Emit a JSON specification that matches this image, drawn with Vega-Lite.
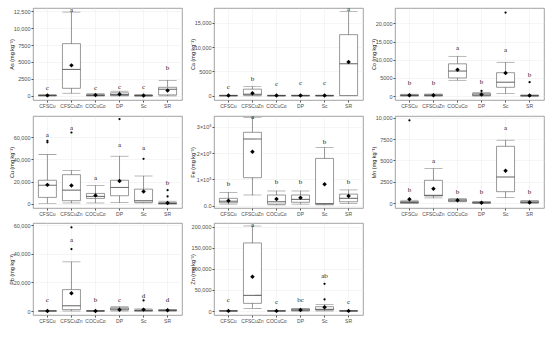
{
"$schema": "https://vega.github.io/schema/vega-lite/v6.json",
"background": "white",
"padding": {"left": 8, "top": 4, "right": 2, "bottom": 2},
"datasets": {
"As": [
{"c":"CFSCu","lo":0,"q1":20,"md":60,"q3":120,"hi":250,"mn":80,"lt":"c","ly":1200},
{"c":"CFSCuZn","lo":400,"q1":1120,"md":3900,"q3":7700,"hi":12350,"mn":4500,"lt":"a","ly":12700},
{"c":"COCuCo","lo":0,"q1":30,"md":80,"q3":200,"hi":350,"mn":120,"lt":"c","ly":1200},
{"c":"DP","lo":0,"q1":60,"md":200,"q3":450,"hi":700,"mn":250,"lt":"c","ly":1300},
{"c":"Sc","lo":0,"q1":10,"md":40,"q3":100,"hi":200,"mn":60,"lt":"c","ly":1250},
{"c":"SR","lo":0,"q1":150,"md":980,"q3":1270,"hi":2300,"mn":800,"lt":"b","ly":4100}
],
"Ca": [
{"c":"CFSCu","lo":0,"q1":10,"md":30,"q3":80,"hi":150,"mn":60,"lt":"c","ly":1800},
{"c":"CFSCuZn","lo":0,"q1":140,"md":340,"q3":1370,"hi":1920,"mn":550,"lt":"b","ly":3400},
{"c":"COCuCo","lo":0,"q1":10,"md":30,"q3":80,"hi":150,"mn":50,"lt":"c","ly":2500},
{"c":"DP","lo":0,"q1":10,"md":30,"q3":80,"hi":150,"mn":50,"lt":"c","ly":2600},
{"c":"Sc","lo":0,"q1":10,"md":30,"q3":80,"hi":150,"mn":50,"lt":"c","ly":2600},
{"c":"SR","lo":0,"q1":70,"md":6580,"q3":12540,"hi":17330,"mn":6920,"lt":"a","ly":17800}
],
"Co": [
{"c":"CFSCu","lo":0,"q1":50,"md":150,"q3":350,"hi":500,"mn":200,"lt":"b","ly":3600},
{"c":"CFSCuZn","lo":0,"q1":60,"md":180,"q3":400,"hi":550,"mn":220,"lt":"b","ly":3600},
{"c":"COCuCo","lo":4340,"q1":4980,"md":6880,"q3":8870,"hi":10950,"mn":7240,"lt":"a","ly":13200},
{"c":"DP","lo":0,"q1":100,"md":300,"q3":720,"hi":900,"mn":400,"lt":"b","ly":3800},
{"c":"DP","o":1400},
{"c":"Sc","lo":720,"q1":2400,"md":3800,"q3":6430,"hi":9300,"mn":6330,"lt":"a","ly":12600},
{"c":"Sc","o":23000},
{"c":"SR","lo":0,"q1":20,"md":60,"q3":150,"hi":300,"mn":120,"lt":"b","ly":5700},
{"c":"SR","o":3800}
],
"Cu": [
{"c":"CFSCu","lo":600,"q1":5900,"md":16840,"q3":21280,"hi":44300,"mn":17140,"lt":"a","ly":62000},
{"c":"CFSCu","o":55300},
{"c":"CFSCu","o":56700},
{"c":"CFSCuZn","lo":900,"q1":2950,"md":12400,"q3":26300,"hi":30100,"mn":16550,"lt":"a","ly":68500},
{"c":"CFSCuZn","o":64100},
{"c":"COCuCo","lo":900,"q1":5000,"md":6800,"q3":9450,"hi":16550,"mn":7700,"lt":"a","ly":23600},
{"c":"DP","lo":1200,"q1":7390,"md":14800,"q3":21280,"hi":42850,"mn":20700,"lt":"a","ly":52500},
{"c":"DP","o":76200},
{"c":"Sc","lo":900,"q1":1480,"md":2950,"q3":13300,"hi":25100,"mn":11200,"lt":"a","ly":50200},
{"c":"Sc","o":40500},
{"c":"SR","lo":0,"q1":200,"md":500,"q3":1200,"hi":2500,"mn":900,"lt":"b","ly":18500},
{"c":"SR","o":6800},
{"c":"SR","o":12400}
],
"Fe": [
{"c":"CFSCu","lo":6000,"q1":11400,"md":17000,"q3":28000,"hi":51000,"mn":18500,"lt":"b","ly":82600},
{"c":"CFSCuZn","lo":40700,"q1":106600,"md":254000,"q3":279500,"hi":336600,"mn":205600,"lt":"a","ly":338000},
{"c":"COCuCo","lo":3000,"q1":6000,"md":15000,"q3":40700,"hi":56000,"mn":25500,"lt":"b","ly":89000},
{"c":"DP","lo":6000,"q1":13000,"md":24000,"q3":40700,"hi":56000,"mn":30500,"lt":"b","ly":89000},
{"c":"Sc","lo":3000,"q1":6000,"md":7700,"q3":180000,"hi":222000,"mn":81500,"lt":"b","ly":241000},
{"c":"SR","lo":9000,"q1":15000,"md":28000,"q3":44000,"hi":60000,"mn":37000,"lt":"b","ly":89000}
],
"Mn": [
{"c":"CFSCu","lo":0,"q1":10,"md":76,"q3":190,"hi":340,"mn":460,"lt":"b","ly":1530},
{"c":"CFSCu","o":9700},
{"c":"CFSCuZn","lo":610,"q1":840,"md":915,"q3":2670,"hi":4050,"mn":1680,"lt":"a","ly":4930},
{"c":"COCuCo","lo":150,"q1":190,"md":340,"q3":460,"hi":500,"mn":340,"lt":"b","ly":1300},
{"c":"DP","lo":0,"q1":10,"md":40,"q3":120,"hi":200,"mn":50,"lt":"b","ly":1260},
{"c":"Sc","lo":650,"q1":1340,"md":3060,"q3":6650,"hi":7370,"mn":3780,"lt":"a","ly":8750},
{"c":"SR","lo":0,"q1":40,"md":100,"q3":220,"hi":300,"mn":80,"lt":"b","ly":1260}
],
"Pb": [
{"c":"CFSCu","lo":0,"q1":20,"md":60,"q3":150,"hi":250,"mn":100,"lt":"c","ly":7400},
{"c":"CFSCuZn","lo":0,"q1":1000,"md":3700,"q3":15000,"hi":34400,"mn":12460,"lt":"a","ly":49850},
{"c":"CFSCuZn","o":43400},
{"c":"CFSCuZn","o":58600},
{"c":"COCuCo","lo":0,"q1":20,"md":50,"q3":120,"hi":200,"mn":80,"lt":"b","ly":7400},
{"c":"DP","lo":0,"q1":700,"md":1400,"q3":2300,"hi":3000,"mn":900,"lt":"c","ly":7700},
{"c":"Sc","lo":0,"q1":100,"md":300,"q3":800,"hi":1500,"mn":1000,"lt":"d","ly":10600},
{"c":"Sc","o":7400},
{"c":"SR","lo":0,"q1":150,"md":400,"q3":900,"hi":1200,"mn":500,"lt":"d","ly":7400}
],
"Zn": [
{"c":"CFSCu","lo":0,"q1":50,"md":150,"q3":400,"hi":700,"mn":300,"lt":"c","ly":25200},
{"c":"CFSCuZn","lo":6300,"q1":18100,"md":37000,"q3":161300,"hi":201500,"mn":81060,"lt":"a","ly":203000},
{"c":"COCuCo","lo":0,"q1":50,"md":150,"q3":400,"hi":700,"mn":300,"lt":"c","ly":22000},
{"c":"DP","lo":0,"q1":800,"md":2500,"q3":4700,"hi":6000,"mn":2500,"lt":"bc","ly":25200},
{"c":"Sc","lo":0,"q1":2360,"md":3900,"q3":10230,"hi":15000,"mn":8660,"lt":"ab","ly":82600},
{"c":"Sc","o":27500},
{"c":"Sc","o":64500},
{"c":"SR","lo":0,"q1":50,"md":150,"q3":400,"hi":700,"mn":300,"lt":"c","ly":22000}
]
},
"columns": 3,
"spacing": {"row": 3, "column": 6},
"concat": [
{"width":149,"height":92,"data":{"name":"As"},
"encoding":{"x":{"field":"c","type":"nominal","scale":{"type":"band","domain":["CFSCu","CFSCuZn","COCuCo","DP","Sc","SR"],"paddingInner":0,"paddingOuter":0.1},"axis":{"title":null}}},
"layer":[
{"mark":{"type":"rule","color":"#555555","strokeWidth":0.6},"encoding":{"y":{"field":"lo","type":"quantitative","scale":{"domain":[-600,12950],"nice":false,"zero":false},"axis":{"title":"As (mg kg⁻¹)","values":[0,2500,5000,7500,10000,12500],"tickCount":20,"labelExpr":"datum.value >= 10000 ? format(datum.value, ',') : format(datum.value, 'd')"}},"y2":{"field":"hi"}}},
{"mark":{"type":"tick","color":"#555555","size":18,"thickness":0.6},"encoding":{"y":{"field":"lo","type":"quantitative"}}},
{"mark":{"type":"tick","color":"#555555","size":18,"thickness":0.6},"encoding":{"y":{"field":"hi","type":"quantitative"}}},
{"mark":{"type":"bar","fill":"white","stroke":"#555555","strokeWidth":0.6,"width":18},"encoding":{"y":{"field":"q1","type":"quantitative"},"y2":{"field":"q3"}}},
{"mark":{"type":"tick","color":"#333333","size":18,"thickness":1.1},"encoding":{"y":{"field":"md","type":"quantitative"}}},
{"mark":{"type":"point","shape":"circle","filled":true,"color":"black","opacity":1,"size":5},"encoding":{"y":{"field":"o","type":"quantitative"}}},
{"mark":{"type":"point","shape":"diamond","filled":true,"color":"black","opacity":1,"size":20},"encoding":{"y":{"field":"mn","type":"quantitative"}}},
{"mark":{"type":"text","font":"Liberation Serif","fontSize":7,"color":"#222222"},"encoding":{"y":{"field":"ly","type":"quantitative"},"text":{"field":"lt"}}}
]},
{"width":149,"height":92,"data":{"name":"Ca"},
"encoding":{"x":{"field":"c","type":"nominal","scale":{"type":"band","domain":["CFSCu","CFSCuZn","COCuCo","DP","Sc","SR"],"paddingInner":0,"paddingOuter":0.1},"axis":{"title":null}}},
"layer":[
{"mark":{"type":"rule","color":"#555555","strokeWidth":0.6},"encoding":{"y":{"field":"lo","type":"quantitative","scale":{"domain":[-850,18000],"nice":false,"zero":false},"axis":{"title":"Ca (mg kg⁻¹)","values":[0,5000,10000,15000],"tickCount":20,"labelExpr":"datum.value >= 10000 ? format(datum.value, ',') : format(datum.value, 'd')"}},"y2":{"field":"hi"}}},
{"mark":{"type":"tick","color":"#555555","size":18,"thickness":0.6},"encoding":{"y":{"field":"lo","type":"quantitative"}}},
{"mark":{"type":"tick","color":"#555555","size":18,"thickness":0.6},"encoding":{"y":{"field":"hi","type":"quantitative"}}},
{"mark":{"type":"bar","fill":"white","stroke":"#555555","strokeWidth":0.6,"width":18},"encoding":{"y":{"field":"q1","type":"quantitative"},"y2":{"field":"q3"}}},
{"mark":{"type":"tick","color":"#333333","size":18,"thickness":1.1},"encoding":{"y":{"field":"md","type":"quantitative"}}},
{"mark":{"type":"point","shape":"circle","filled":true,"color":"black","opacity":1,"size":5},"encoding":{"y":{"field":"o","type":"quantitative"}}},
{"mark":{"type":"point","shape":"diamond","filled":true,"color":"black","opacity":1,"size":20},"encoding":{"y":{"field":"mn","type":"quantitative"}}},
{"mark":{"type":"text","font":"Liberation Serif","fontSize":7,"color":"#222222"},"encoding":{"y":{"field":"ly","type":"quantitative"},"text":{"field":"lt"}}}
]},
{"width":149,"height":92,"data":{"name":"Co"},
"encoding":{"x":{"field":"c","type":"nominal","scale":{"type":"band","domain":["CFSCu","CFSCuZn","COCuCo","DP","Sc","SR"],"paddingInner":0,"paddingOuter":0.1},"axis":{"title":null}}},
"layer":[
{"mark":{"type":"rule","color":"#555555","strokeWidth":0.6},"encoding":{"y":{"field":"lo","type":"quantitative","scale":{"domain":[-1100,24250],"nice":false,"zero":false},"axis":{"title":"Co (mg kg⁻¹)","values":[0,5000,10000,15000,20000],"tickCount":20,"labelExpr":"datum.value >= 10000 ? format(datum.value, ',') : format(datum.value, 'd')"}},"y2":{"field":"hi"}}},
{"mark":{"type":"tick","color":"#555555","size":18,"thickness":0.6},"encoding":{"y":{"field":"lo","type":"quantitative"}}},
{"mark":{"type":"tick","color":"#555555","size":18,"thickness":0.6},"encoding":{"y":{"field":"hi","type":"quantitative"}}},
{"mark":{"type":"bar","fill":"white","stroke":"#555555","strokeWidth":0.6,"width":18},"encoding":{"y":{"field":"q1","type":"quantitative"},"y2":{"field":"q3"}}},
{"mark":{"type":"tick","color":"#333333","size":18,"thickness":1.1},"encoding":{"y":{"field":"md","type":"quantitative"}}},
{"mark":{"type":"point","shape":"circle","filled":true,"color":"black","opacity":1,"size":5},"encoding":{"y":{"field":"o","type":"quantitative"}}},
{"mark":{"type":"point","shape":"diamond","filled":true,"color":"black","opacity":1,"size":20},"encoding":{"y":{"field":"mn","type":"quantitative"}}},
{"mark":{"type":"text","font":"Liberation Serif","fontSize":7,"color":"#222222"},"encoding":{"y":{"field":"ly","type":"quantitative"},"text":{"field":"lt"}}}
]},
{"width":149,"height":92,"data":{"name":"Cu"},
"encoding":{"x":{"field":"c","type":"nominal","scale":{"type":"band","domain":["CFSCu","CFSCuZn","COCuCo","DP","Sc","SR"],"paddingInner":0,"paddingOuter":0.1},"axis":{"title":null}}},
"layer":[
{"mark":{"type":"rule","color":"#555555","strokeWidth":0.6},"encoding":{"y":{"field":"lo","type":"quantitative","scale":{"domain":[-3600,78900],"nice":false,"zero":false},"axis":{"title":"Cu (mg kg⁻¹)","values":[0,20000,40000,60000],"tickCount":20,"labelExpr":"datum.value >= 10000 ? format(datum.value, ',') : format(datum.value, 'd')"}},"y2":{"field":"hi"}}},
{"mark":{"type":"tick","color":"#555555","size":18,"thickness":0.6},"encoding":{"y":{"field":"lo","type":"quantitative"}}},
{"mark":{"type":"tick","color":"#555555","size":18,"thickness":0.6},"encoding":{"y":{"field":"hi","type":"quantitative"}}},
{"mark":{"type":"bar","fill":"white","stroke":"#555555","strokeWidth":0.6,"width":18},"encoding":{"y":{"field":"q1","type":"quantitative"},"y2":{"field":"q3"}}},
{"mark":{"type":"tick","color":"#333333","size":18,"thickness":1.1},"encoding":{"y":{"field":"md","type":"quantitative"}}},
{"mark":{"type":"point","shape":"circle","filled":true,"color":"black","opacity":1,"size":5},"encoding":{"y":{"field":"o","type":"quantitative"}}},
{"mark":{"type":"point","shape":"diamond","filled":true,"color":"black","opacity":1,"size":20},"encoding":{"y":{"field":"mn","type":"quantitative"}}},
{"mark":{"type":"text","font":"Liberation Serif","fontSize":7,"color":"#222222"},"encoding":{"y":{"field":"ly","type":"quantitative"},"text":{"field":"lt"}}}
]},
{"width":149,"height":92,"data":{"name":"Fe"},
"encoding":{"x":{"field":"c","type":"nominal","scale":{"type":"band","domain":["CFSCu","CFSCuZn","COCuCo","DP","Sc","SR"],"paddingInner":0,"paddingOuter":0.1},"axis":{"title":null}}},
"layer":[
{"mark":{"type":"rule","color":"#555555","strokeWidth":0.6},"encoding":{"y":{"field":"lo","type":"quantitative","scale":{"domain":[-8800,341600],"nice":false,"zero":false},"axis":{"title":"Fe (mg kg⁻¹)","values":[0,100000,200000,300000],"tickCount":20,"labelExpr":"datum.value == 0 ? '0.0' : format(datum.value / 100000, 'd') + '×10⁵'"}},"y2":{"field":"hi"}}},
{"mark":{"type":"tick","color":"#555555","size":18,"thickness":0.6},"encoding":{"y":{"field":"lo","type":"quantitative"}}},
{"mark":{"type":"tick","color":"#555555","size":18,"thickness":0.6},"encoding":{"y":{"field":"hi","type":"quantitative"}}},
{"mark":{"type":"bar","fill":"white","stroke":"#555555","strokeWidth":0.6,"width":18},"encoding":{"y":{"field":"q1","type":"quantitative"},"y2":{"field":"q3"}}},
{"mark":{"type":"tick","color":"#333333","size":18,"thickness":1.1},"encoding":{"y":{"field":"md","type":"quantitative"}}},
{"mark":{"type":"point","shape":"circle","filled":true,"color":"black","opacity":1,"size":5},"encoding":{"y":{"field":"o","type":"quantitative"}}},
{"mark":{"type":"point","shape":"diamond","filled":true,"color":"black","opacity":1,"size":20},"encoding":{"y":{"field":"mn","type":"quantitative"}}},
{"mark":{"type":"text","font":"Liberation Serif","fontSize":7,"color":"#222222"},"encoding":{"y":{"field":"ly","type":"quantitative"},"text":{"field":"lt"}}}
]},
{"width":149,"height":92,"data":{"name":"Mn"},
"encoding":{"x":{"field":"c","type":"nominal","scale":{"type":"band","domain":["CFSCu","CFSCuZn","COCuCo","DP","Sc","SR"],"paddingInner":0,"paddingOuter":0.1},"axis":{"title":null}}},
"layer":[
{"mark":{"type":"rule","color":"#555555","strokeWidth":0.6},"encoding":{"y":{"field":"lo","type":"quantitative","scale":{"domain":[-570,10200],"nice":false,"zero":false},"axis":{"title":"Mn (mg kg⁻¹)","values":[0,2500,5000,7500,10000],"tickCount":20,"labelExpr":"datum.value >= 10000 ? format(datum.value, ',') : format(datum.value, 'd')"}},"y2":{"field":"hi"}}},
{"mark":{"type":"tick","color":"#555555","size":18,"thickness":0.6},"encoding":{"y":{"field":"lo","type":"quantitative"}}},
{"mark":{"type":"tick","color":"#555555","size":18,"thickness":0.6},"encoding":{"y":{"field":"hi","type":"quantitative"}}},
{"mark":{"type":"bar","fill":"white","stroke":"#555555","strokeWidth":0.6,"width":18},"encoding":{"y":{"field":"q1","type":"quantitative"},"y2":{"field":"q3"}}},
{"mark":{"type":"tick","color":"#333333","size":18,"thickness":1.1},"encoding":{"y":{"field":"md","type":"quantitative"}}},
{"mark":{"type":"point","shape":"circle","filled":true,"color":"black","opacity":1,"size":5},"encoding":{"y":{"field":"o","type":"quantitative"}}},
{"mark":{"type":"point","shape":"diamond","filled":true,"color":"black","opacity":1,"size":20},"encoding":{"y":{"field":"mn","type":"quantitative"}}},
{"mark":{"type":"text","font":"Liberation Serif","fontSize":7,"color":"#222222"},"encoding":{"y":{"field":"ly","type":"quantitative"},"text":{"field":"lt"}}}
]},
{"width":149,"height":92,"data":{"name":"Pb"},
"encoding":{"x":{"field":"c","type":"nominal","scale":{"type":"band","domain":["CFSCu","CFSCuZn","COCuCo","DP","Sc","SR"],"paddingInner":0,"paddingOuter":0.1},"axis":{"title":null}}},
"layer":[
{"mark":{"type":"rule","color":"#555555","strokeWidth":0.6},"encoding":{"y":{"field":"lo","type":"quantitative","scale":{"domain":[-2770,61600],"nice":false,"zero":false},"axis":{"title":"Pb (mg kg⁻¹)","values":[0,20000,40000,60000],"tickCount":20,"labelExpr":"datum.value >= 10000 ? format(datum.value, ',') : format(datum.value, 'd')"}},"y2":{"field":"hi"}}},
{"mark":{"type":"tick","color":"#555555","size":18,"thickness":0.6},"encoding":{"y":{"field":"lo","type":"quantitative"}}},
{"mark":{"type":"tick","color":"#555555","size":18,"thickness":0.6},"encoding":{"y":{"field":"hi","type":"quantitative"}}},
{"mark":{"type":"bar","fill":"white","stroke":"#555555","strokeWidth":0.6,"width":18},"encoding":{"y":{"field":"q1","type":"quantitative"},"y2":{"field":"q3"}}},
{"mark":{"type":"tick","color":"#333333","size":18,"thickness":1.1},"encoding":{"y":{"field":"md","type":"quantitative"}}},
{"mark":{"type":"point","shape":"circle","filled":true,"color":"black","opacity":1,"size":5},"encoding":{"y":{"field":"o","type":"quantitative"}}},
{"mark":{"type":"point","shape":"diamond","filled":true,"color":"black","opacity":1,"size":20},"encoding":{"y":{"field":"mn","type":"quantitative"}}},
{"mark":{"type":"text","font":"Liberation Serif","fontSize":7,"color":"#222222"},"encoding":{"y":{"field":"ly","type":"quantitative"},"text":{"field":"lt"}}}
]},
{"width":149,"height":92,"data":{"name":"Zn"},
"encoding":{"x":{"field":"c","type":"nominal","scale":{"type":"band","domain":["CFSCu","CFSCuZn","COCuCo","DP","Sc","SR"],"paddingInner":0,"paddingOuter":0.1},"axis":{"title":null}}},
"layer":[
{"mark":{"type":"rule","color":"#555555","strokeWidth":0.6},"encoding":{"y":{"field":"lo","type":"quantitative","scale":{"domain":[-9450,208500],"nice":false,"zero":false},"axis":{"title":"Zn (mg kg⁻¹)","values":[0,50000,100000,150000,200000],"tickCount":20,"labelExpr":"datum.value >= 10000 ? format(datum.value, ',') : format(datum.value, 'd')"}},"y2":{"field":"hi"}}},
{"mark":{"type":"tick","color":"#555555","size":18,"thickness":0.6},"encoding":{"y":{"field":"lo","type":"quantitative"}}},
{"mark":{"type":"tick","color":"#555555","size":18,"thickness":0.6},"encoding":{"y":{"field":"hi","type":"quantitative"}}},
{"mark":{"type":"bar","fill":"white","stroke":"#555555","strokeWidth":0.6,"width":18},"encoding":{"y":{"field":"q1","type":"quantitative"},"y2":{"field":"q3"}}},
{"mark":{"type":"tick","color":"#333333","size":18,"thickness":1.1},"encoding":{"y":{"field":"md","type":"quantitative"}}},
{"mark":{"type":"point","shape":"circle","filled":true,"color":"black","opacity":1,"size":5},"encoding":{"y":{"field":"o","type":"quantitative"}}},
{"mark":{"type":"point","shape":"diamond","filled":true,"color":"black","opacity":1,"size":20},"encoding":{"y":{"field":"mn","type":"quantitative"}}},
{"mark":{"type":"text","font":"Liberation Serif","fontSize":7,"color":"#222222"},"encoding":{"y":{"field":"ly","type":"quantitative"},"text":{"field":"lt"}}}
]}
],
"config": {
"view": {"stroke": "#8c8c8c", "strokeWidth": 0.8},
"axis": {"labelFontSize": 5, "titleFontSize": 5.5, "labelColor": "#4d4d4d", "titleColor": "#222222", "domain": false, "tickColor": "#555555", "tickSize": 2, "labelPadding": 1, "gridColor": "#ebebeb", "gridWidth": 0.5, "labelFont": "Liberation Sans", "titleFont": "Liberation Sans", "titleFontWeight": "normal", "labelOverlap": false},
"axisY": {"minExtent": 17, "maxExtent": 17, "titlePadding": 2, "labelFontSize": 5.5},
"axisX": {"grid": true, "labelAngle": 0, "minExtent": 8, "maxExtent": 8}
}
}
